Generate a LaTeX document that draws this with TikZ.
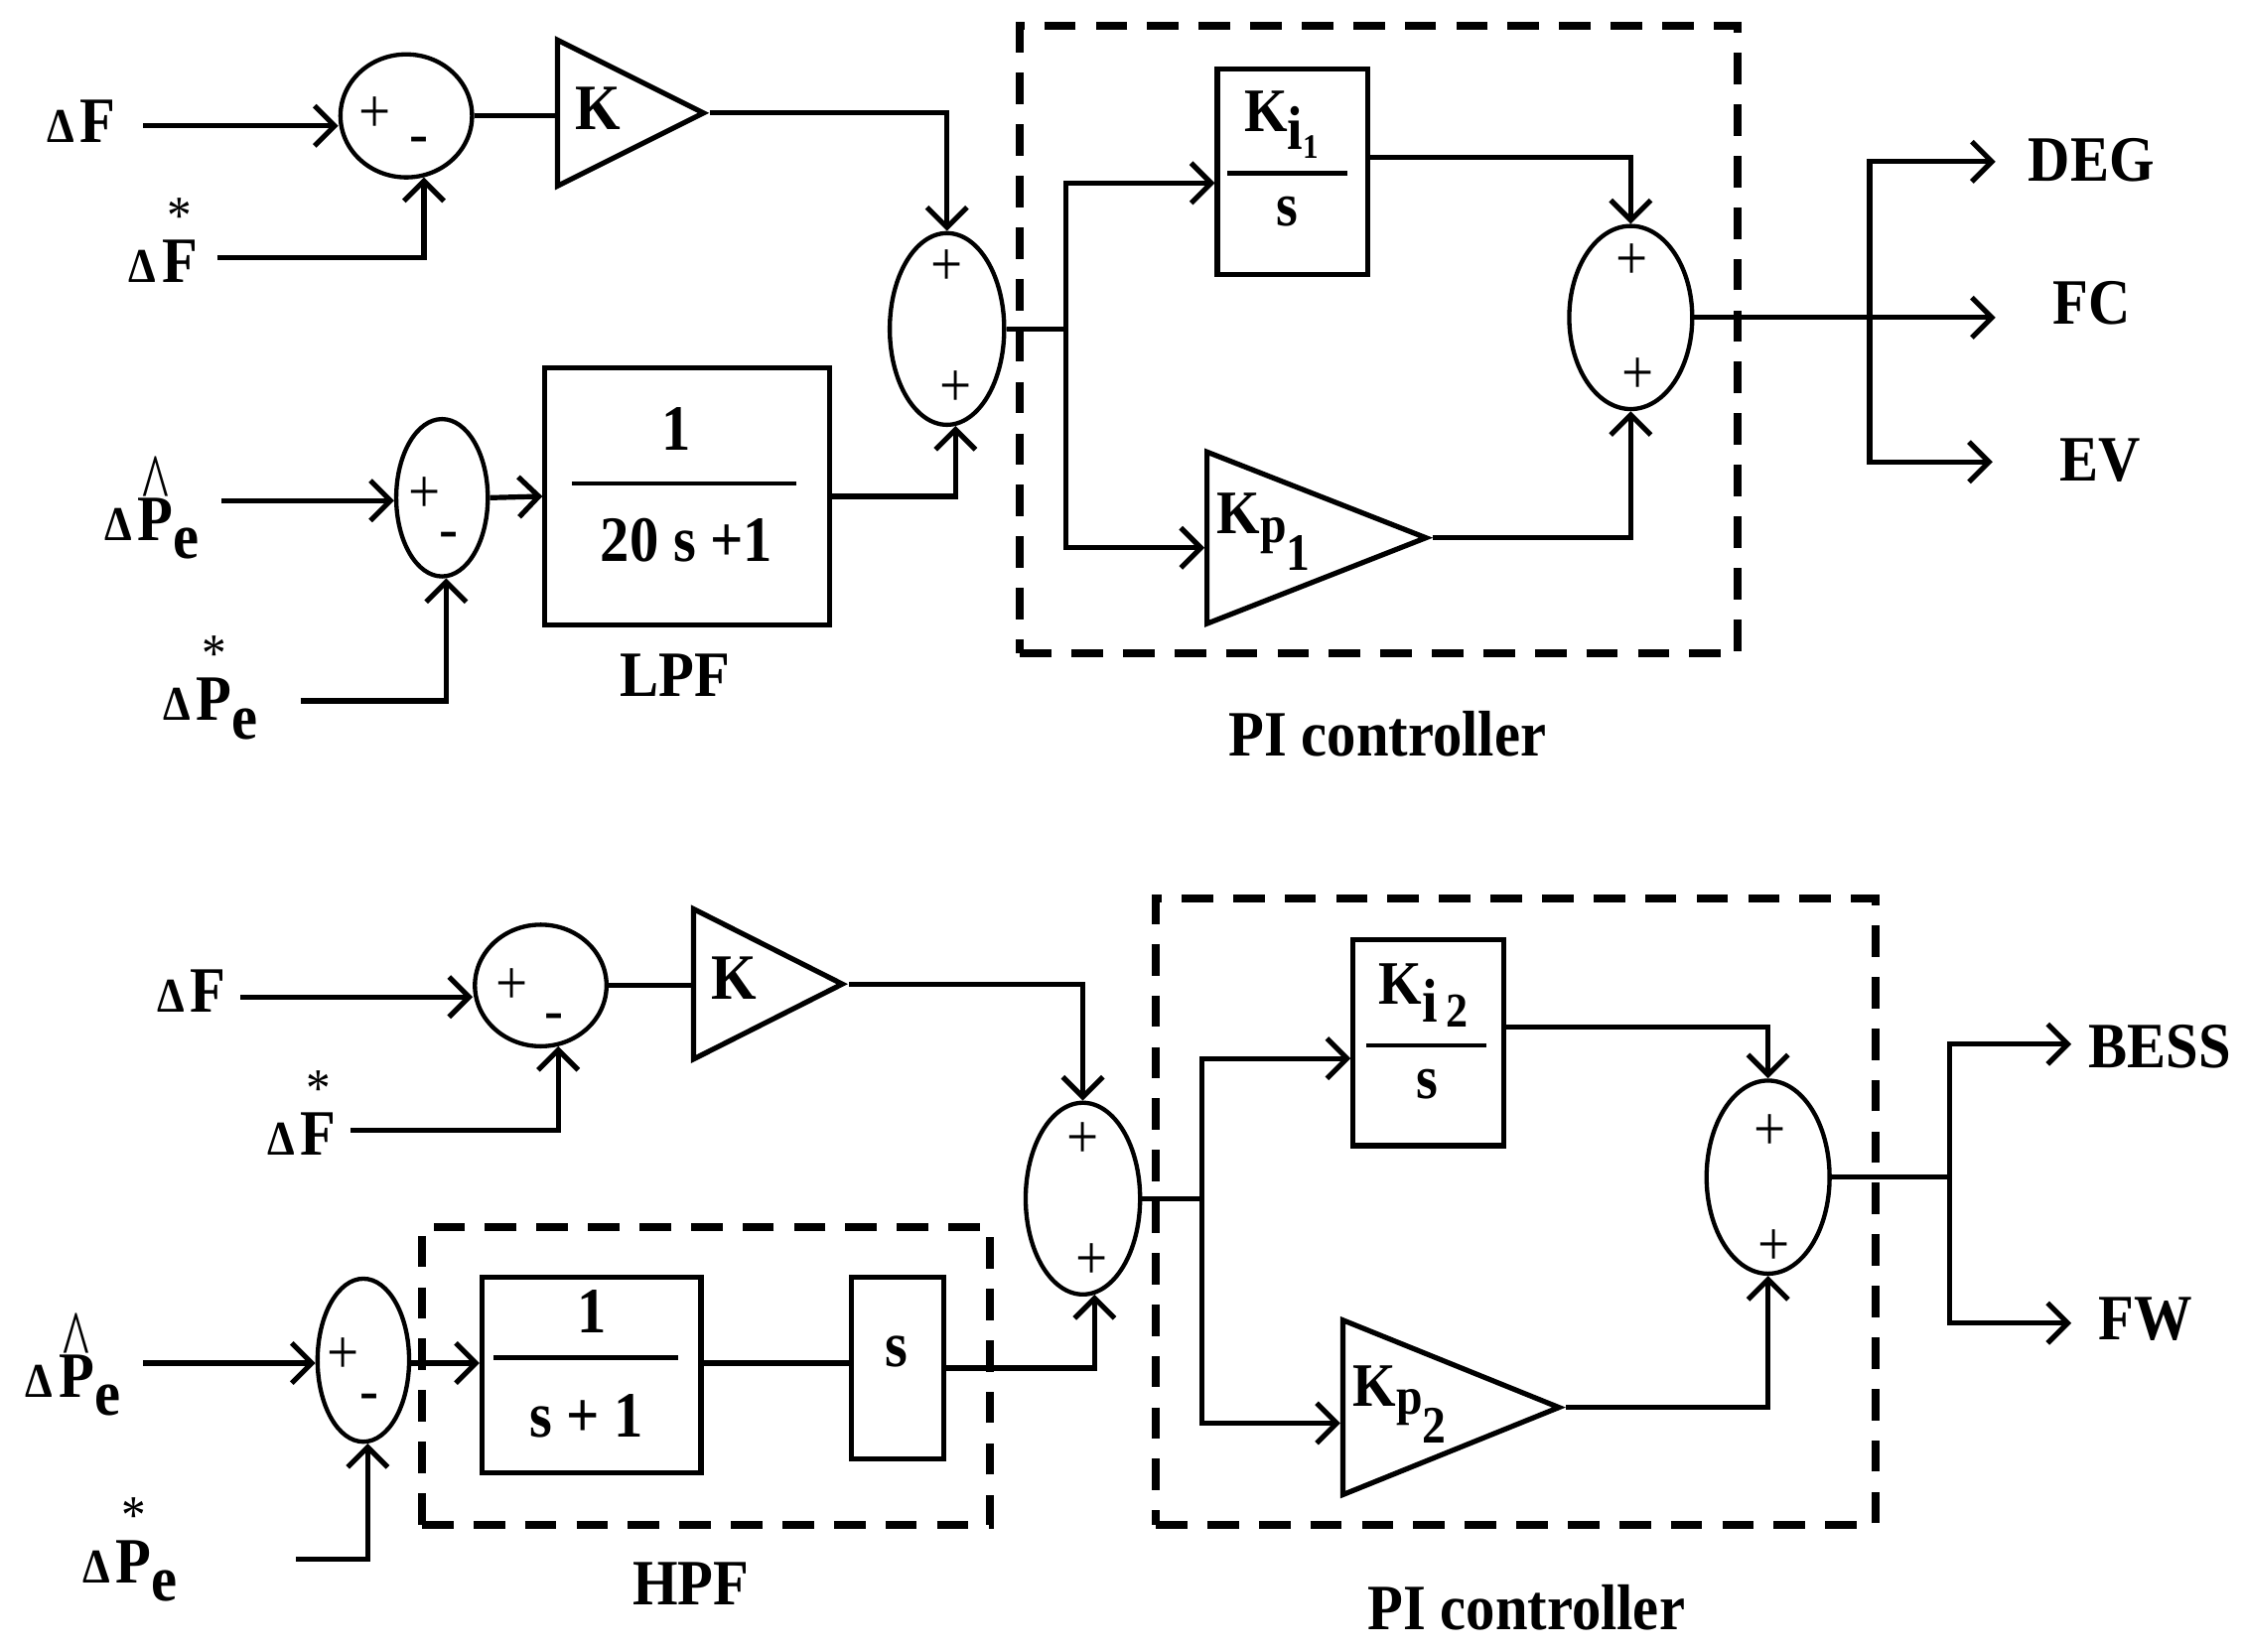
\documentclass[tikz,border=0pt]{standalone}
\usepackage{fontspec}
\setmainfont{Liberation Serif}[FakeStretch=0.9]
\usepackage{graphicx}
\usetikzlibrary{shapes.geometric,arrows.meta,calc}

\newcommand{\dlt}{{\fontsize{8.5}{9}\selectfont Δ}\kern1pt}
\newcommand{\starmark}{\raisebox{8.6pt}{\fontsize{9.5}{10}\selectfont *}}
\newcommand{\hatmark}{\raisebox{4.8pt}{\scalebox{1.1}[1.5]{\fontsize{10}{10}\selectfont\textasciicircum}}}
\newcommand{\overmark}[2]{\ooalign{#2\cr\hidewidth\smash{\mdseries #1}\hidewidth\cr}}
\newcommand{\lowered}[2][0.28em]{\smash{\raisebox{-#1}{#2}}}

\begin{document}
\begin{tikzpicture}[x=0.25pt,y=-0.25pt,
    wire/.style={line width=0.9pt},
    sig/.style={wire,-{Straight Barb[length=3.5pt,width=7pt]}},
    sumj/.style={ellipse,draw,line width=0.75pt,inner sep=0pt},
    blk/.style={rectangle,draw,line width=0.9pt,inner sep=0pt},
    gain/.style={isosceles triangle,isosceles triangle stretches,draw,line width=0.9pt,inner sep=0pt,anchor=lower side},
    grp/.style={rectangle,draw,line width=1.4pt,dash pattern=on 5.5pt off 3.5pt,inner sep=0pt},
    lbl/.style={inner sep=0pt,font=\fontsize{11.3}{13}\selectfont\bfseries},
    blktxt/.style={inner sep=0pt,font=\fontsize{10.8}{12}\selectfont\bfseries},
    sgn/.style={inner sep=0pt,font=\fontsize{11}{11}\selectfont},
    frac/.style={line width=0.8pt}]
        \path[use as bounding box] (0,0) rectangle (1568,1155);

        %%%%%%%%%% upper controller %%%%%%%%%%
        % Summing junctions
        \node[sumj,minimum width=23pt,minimum height=21.5pt] (s1) at (284,81) {};
        \node[sumj,minimum width=16pt,minimum height=27.5pt] (s3) at (309,348) {};
        \node[sumj,minimum width=20pt,minimum height=33.5pt] (s2) at (662,230) {};
        \node[sumj,minimum width=21.5pt,minimum height=32pt] (s4) at (1140,222) {};
        % Signs
        \node[sgn] (s1a) at ($(s1)+(-22,-1)$) {+};
        \node[sgn] (s1b) at ($(s1)+(9,21)$) {-};
        \node[sgn] (s3a) at ($(s3)+(-12,-2)$) {+};
        \node[sgn] (s3b) at ($(s3)+(5,30)$) {-};
        \node[sgn] (s2a) at ($(s2)+(0,-43)$) {+};
        \node[sgn] (s2b) at ($(s2)+(6,42)$) {+};
        \node[sgn] (s4a) at ($(s4)+(1,-39)$) {+};
        \node[sgn] (s4b) at ($(s4)+(5,41)$) {+};

        % Gains
        \node[gain,minimum width=25.5pt,minimum height=25.5pt] (k1) at (388,79) {};
        \node[lbl] (k1t) at (418,76) {K};
        \node[gain,minimum width=30pt,minimum height=38.25pt] (kp1) at (842,376) {};
        \node[blktxt,anchor=base west] (kp1t) at (850,373) {K{\fontsize{9.2}{10}\selectfont\lowered[1.5pt]{p}\lowered[6.5pt]{1}}};

        % Blocks
        \node[blk,minimum width=26.25pt,minimum height=36pt] (ki1) at (903.5,120) {};
        \node[blktxt,anchor=base west] (ki1t) at (869,92) {K\lowered[3.2pt]{i}\lowered[4.6pt]{\fontsize{6}{6}\selectfont 1}};
        \draw[frac] (858,121) -- (942,121);
        \node[blktxt] (ki1b) at (900,148) {s};

        \node[blk,minimum width=49.75pt,minimum height=45pt] (lpf) at (480.5,347) {};
        \node[lbl] (lpfa) at (473,300) {1};
        \draw[frac] (400,338) -- (557,338);
        \node[lbl] (lpfb) at (480,378) {20 s +1};
        \node[lbl] (lpfl) at (472,472) {LPF};

        % PI group
        \node[grp,minimum width=125.5pt,minimum height=109.75pt] (pi1) at (964,237.5) {};
        \node[lbl] (pi1l) at (970,513) {PI controller};

        % Input labels
        \node[lbl] (dF1) at (57,85) {\dlt F};
        \node[lbl] (dFs1) at (114,183) {\dlt\overmark{\starmark}{F}};
        \node[lbl] (dPh1) at (106,363) {\dlt\overmark{\hatmark}{P}\lowered{e}};
        \node[lbl] (dPs1) at (147,489) {\dlt\overmark{\starmark}{P}\lowered{e}};
        \coordinate (uF1) at (100,88);
        \coordinate (uFs1) at (152,180);
        \coordinate (uPh1) at (155,350);
        \coordinate (uPs1) at (210,490);

        % Output labels
        \node[lbl] (oDEGt) at (1462,112) {DEG};
        \node[lbl] (oFCt) at (1462,212) {FC};
        \node[lbl] (oEVt) at (1468,322) {EV};
        \coordinate (oDEG) at (1395,113);
        \coordinate (oFC) at (1395,222);
        \coordinate (oEV) at (1393,323);

        % Connections
        \draw[sig] (uF1) -- (uF1 -| s1.west);
        \draw[sig] (uFs1) -| (s1.-74);
        \draw[wire] (s1.east) -- (s1.east -| k1.lower side);
        \draw[sig] (k1.apex) -| (s2.north);
        \draw[sig] (uPh1) -- (uPh1 -| s3.west);
        \draw[sig] (uPs1) -| (s3.-87);
        \draw[sig] (s3.east) -- (lpf.west);
        \draw[sig] (lpf.east) -| (s2.-85);
        \coordinate (j1) at (745,230);
        \draw[wire] (s2.east) -- (j1);
        \draw[sig] (j1) |- ($(ki1.west)+(0,8)$);
        \draw[sig] (j1) |- ($(kp1.lower side)+(0,7)$);
        \draw[sig] ($(ki1.east)+(0,-10)$) -| (s4.north);
        \draw[sig] (kp1.apex) -| (s4.south);
        \coordinate (j2) at (1307,222);
        \draw[sig] (s4.east) -- (oFC);
        \draw[sig] (j2) |- (oDEG);
        \draw[sig] (j2) |- (oEV);

        %%%%%%%%%% lower controller %%%%%%%%%%
        % Summing junctions
        \node[sumj,minimum width=23pt,minimum height=21.25pt] (s5) at (378,689) {};
        \node[sumj,minimum width=16pt,minimum height=28.5pt] (s7) at (254,951) {};
        \node[sumj,minimum width=20pt,minimum height=33.5pt] (s6) at (757,838) {};
        \node[sumj,minimum width=21.5pt,minimum height=33.75pt] (s8) at (1236,823) {};
        % Signs
        \node[sgn] (s5a) at ($(s5)+(-20,1)$) {+};
        \node[sgn] (s5b) at ($(s5)+(9,26)$) {-};
        \node[sgn] (s7a) at ($(s7)+(-14,-3)$) {+};
        \node[sgn] (s7b) at ($(s7)+(4,30)$) {-};
        \node[sgn] (s6a) at ($(s6)+(0,-41)$) {+};
        \node[sgn] (s6b) at ($(s6)+(6,44)$) {+};
        \node[sgn] (s8a) at ($(s8)+(1,-31)$) {+};
        \node[sgn] (s8b) at ($(s8)+(4,49)$) {+};

        % Gains
        \node[gain,minimum width=26.25pt,minimum height=26pt] (k2) at (483,688) {};
        \node[lbl] (k2t) at (513,684) {K};
        \node[gain,minimum width=30.5pt,minimum height=37.75pt] (kp2) at (937,984) {};
        \node[blktxt,anchor=base west] (kp2t) at (945,983) {K{\fontsize{9.2}{10}\selectfont\lowered[1.5pt]{p}\lowered[6.5pt]{2}}};

        % Blocks
        \node[blk,minimum width=26.25pt,minimum height=36pt] (ki2) at (998.5,729) {};
        \node[blktxt,anchor=base west] (ki2t) at (963,702) {K\lowered[3.2pt]{i}\kern1.5pt\lowered[4pt]{\fontsize{8.5}{9}\selectfont 2}};
        \draw[frac] (955,731) -- (1039,731);
        \node[blktxt] (ki2b) at (998,758) {s};

        \node[blk,minimum width=38.25pt,minimum height=34.25pt] (hp1) at (413.5,961.5) {};
        \node[lbl] (hp1a) at (414,917) {1};
        \draw[frac] (345,949) -- (474,949);
        \node[lbl] (hp1b) at (410,990) {s + 1};
        \node[blk,minimum width=16.25pt,minimum height=31.75pt] (sb) at (627.5,956.5) {};
        \node[lbl] (sbt) at (627,945) {s};

        % HPF and PI groups
        \node[grp,minimum width=99.25pt,minimum height=52pt] (hpf) at (493.5,962) {};
        \node[lbl] (hpfl) at (483,1107) {HPF};
        \node[grp,minimum width=125.75pt,minimum height=109.5pt] (pi2) at (1059.5,847) {};
        \node[lbl] (pi2l) at (1067,1124) {PI controller};

        % Input labels
        \node[lbl] (dF2) at (134,693) {\dlt F};
        \node[lbl] (dFs2) at (211,793) {\dlt\overmark{\starmark}{F}};
        \node[lbl] (dPh2) at (51,962) {\dlt\overmark{\hatmark}{P}\lowered{e}};
        \node[lbl] (dPs2) at (91,1092) {\dlt\overmark{\starmark}{P}\lowered{e}};
        \coordinate (uF2) at (168,697);
        \coordinate (uFs2) at (245,790);
        \coordinate (uPh2) at (100,953);
        \coordinate (uPs2) at (207,1090);

        % Output labels
        \node[lbl] (oBESSt) at (1510,732) {BESS};
        \node[lbl] (oFWt) at (1500,922) {FW};
        \coordinate (oBESS) at (1448,730);
        \coordinate (oFW) at (1448,925);

        % Connections
        \draw[sig] (uF2) -- (uF2 -| s5.west);
        \draw[sig] (uFs2) -| (s5.-74);
        \draw[wire] (s5.east) -- (s5.east -| k2.lower side);
        \draw[sig] (k2.apex) -| (s6.north);
        \draw[sig] (uPh2) -- (uPh2 -| s7.west);
        \draw[sig] (uPs2) -| (s7.-87);
        \draw[sig] (s7.east |- uPh2) -- (hp1.west |- uPh2);
        \draw[wire] (hp1.east |- uPh2) -- (sb.west |- uPh2);
        \draw[sig] (sb.east) -| (s6.-83);
        \coordinate (j3) at (840,838);
        \draw[wire] (s6.east) -- (j3);
        \draw[sig] (j3) |- ($(ki2.west)+(0,11)$);
        \draw[sig] (j3) |- ($(kp2.lower side)+(0,11)$);
        \draw[sig] ($(ki2.east)+(0,-11)$) -| (s8.north);
        \draw[sig] (kp2.apex) -| (s8.south);
        \coordinate (j4) at (1363,823);
        \draw[wire] (s8.east) -- (j4);
        \draw[sig] (j4) |- (oBESS);
        \draw[sig] (j4) |- (oFW);
\end{tikzpicture}
\end{document}
